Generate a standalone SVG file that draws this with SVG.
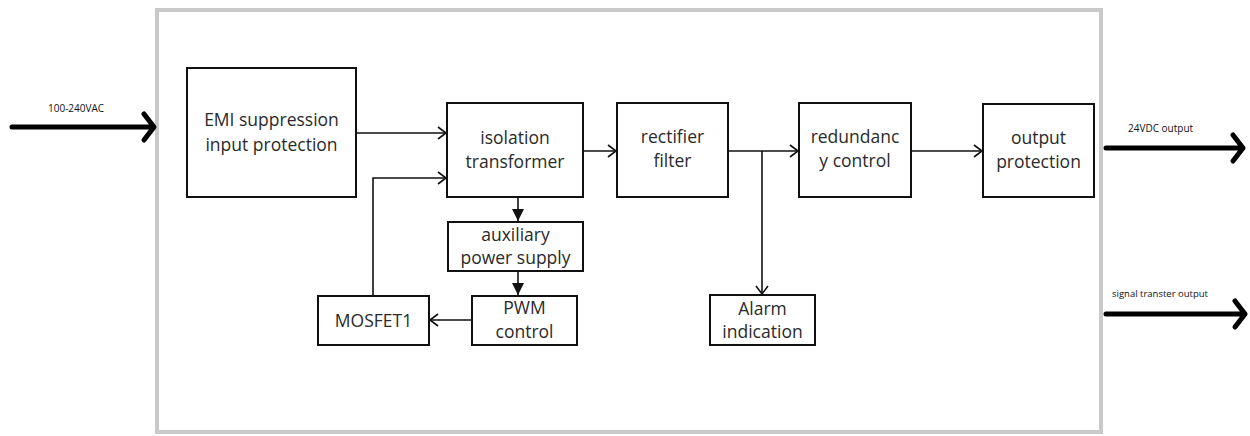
<svg xmlns="http://www.w3.org/2000/svg" width="1250" height="436" viewBox="0 0 1250 436">
<style>
.frame{fill:#fff;stroke:#c9c9c9;stroke-width:4}
.box{fill:#fff;stroke:#111;stroke-width:2}
.t{font-family:"Open Sans","Liberation Sans",sans-serif;font-size:17.5px;fill:#2a2a2a;text-anchor:middle}
.s{font-family:"Open Sans","Liberation Sans",sans-serif;font-size:10px;fill:#111}
.c{fill:none;stroke:#111;stroke-width:1.6}
.big{fill:none;stroke:#000;stroke-width:5;stroke-linecap:round;stroke-linejoin:round}
</style>
<defs>
<marker id="open" markerWidth="12" markerHeight="14" refX="10" refY="7" orient="auto" markerUnits="userSpaceOnUse">
<path d="M2,1 L10,7 L2,13" fill="none" stroke="#111" stroke-width="1.6"/>
</marker>
<marker id="fill" markerWidth="14" markerHeight="12" refX="12" refY="6" orient="auto" markerUnits="userSpaceOnUse">
<path d="M0,0 L12,6 L0,12 Z" fill="#111"/>
</marker>
</defs>
<rect width="1250" height="436" fill="#fff"/>
<rect class="frame" x="157" y="10" width="944" height="422"/>

<g id="connectors">
<line class="c" x1="356" y1="133" x2="446" y2="133" marker-end="url(#open)"/>
<polyline class="c" points="373,296 373,178 446,178" marker-end="url(#open)"/>
<line class="c" x1="583" y1="151" x2="616" y2="151" marker-end="url(#open)"/>
<line class="c" x1="728" y1="151" x2="798" y2="151" marker-end="url(#open)"/>
<line class="c" x1="762" y1="151" x2="762" y2="294" marker-end="url(#open)"/>
<line class="c" x1="911" y1="151" x2="982" y2="151" marker-end="url(#open)"/>
<line class="c" x1="518" y1="197" x2="518" y2="221" marker-end="url(#fill)"/>
<line class="c" x1="518" y1="271" x2="518" y2="295" marker-end="url(#fill)"/>
<line class="c" x1="472" y1="320" x2="430" y2="320" marker-end="url(#open)"/>
<path class="big" d="M12,127 L153,127 M144,114 L154,127 L144,140"/>
<path class="big" d="M1106,148 L1243,148 M1233,135 L1243,148 L1233,161"/>
<path class="big" d="M1106,314 L1245,314 M1235,301 L1245,314 L1235,327"/>
</g>

<g id="label-in"><text class="s" x="48" y="112">100-240VAC</text></g>
<g id="label-24v"><text class="s" x="1128" y="132">24VDC output</text></g>
<g id="label-sig"><text class="s" x="1112" y="297" style="font-size:9.5px">signal transter output</text></g>

<g id="emi">
<rect class="box" x="187" y="68" width="169" height="129"/>
<text class="t" x="271.5" y="126">EMI suppression</text>
<text class="t" x="271.5" y="151">input protection</text>
</g>
<g id="isolation">
<rect class="box" x="447" y="103" width="136" height="94"/>
<text class="t" x="515" y="144">isolation</text>
<text class="t" x="515" y="168">transformer</text>
</g>
<g id="rectifier">
<rect class="box" x="617" y="103" width="111" height="94"/>
<text class="t" x="672.5" y="143">rectifier</text>
<text class="t" x="672.5" y="167">filter</text>
</g>
<g id="redundancy">
<rect class="box" x="799" y="103" width="112" height="94"/>
<text class="t" x="855" y="143">redundanc</text>
<text class="t" x="855" y="167">y control</text>
</g>
<g id="output">
<rect class="box" x="983" y="104" width="111" height="93"/>
<text class="t" x="1038.5" y="144">output</text>
<text class="t" x="1038.5" y="168">protection</text>
</g>
<g id="auxiliary">
<rect class="box" x="448" y="222" width="135" height="49"/>
<text class="t" x="515.5" y="241">auxiliary</text>
<text class="t" x="515.5" y="264">power supply</text>
</g>
<g id="pwm">
<rect class="box" x="472" y="296" width="105" height="49"/>
<text class="t" x="524.5" y="314">PWM</text>
<text class="t" x="524.5" y="338">control</text>
</g>
<g id="mosfet">
<rect class="box" x="318" y="296" width="111" height="49"/>
<text class="t" x="373.5" y="327">MOSFET1</text>
</g>
<g id="alarm">
<rect class="box" x="710" y="295" width="105" height="50"/>
<text class="t" x="762.5" y="315">Alarm</text>
<text class="t" x="762.5" y="338">indication</text>
</g>
</svg>
